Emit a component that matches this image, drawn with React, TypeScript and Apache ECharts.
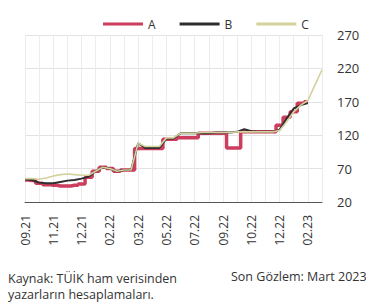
import React, { useEffect, useRef } from "react";
import * as echarts from "echarts";

const tickLabels = ["09.21", "11.21", "12.21", "02.22", "03.22", "05.22", "07.22", "09.22", "10.22", "12.22", "02.23"];
const pointsPerTick = 4;

const seriesA = [53, 52, 48, 46, 45, 44, 44, 45, 47, 57, 66, 72, 70, 66, 68, 68, 100, 100, 100, 100, 114, 114, 116, 116, 116, 123, 123, 123, 123, 101, 101, 125, 125, 125, 125, 125, 135, 147, 155, 168, 170];
const seriesB = [54, 53, 49, 48, 48, 50, 52, 53, 55, 58, 66, 72, 70, 66, 68, 68, 108, 101, 101, 101, 115, 115, 123, 123, 123, 123, 123, 124, 124, 124, 125, 129, 126, 125, 125, 125, 128, 145, 160, 165, 168];
const seriesC = [55, 55, 54, 56, 59, 61, 62, 61, 60, 60, 66, 72, 70, 66, 68, 68, 108, 103, 103, 103, 116, 116, 123, 123, 123, 124, 124, 124, 124, 124, 125, 125, 125, 125, 125, 125, 127, 140, 155, 165, 172, 195, 218];

const categories: string[] = seriesC.map((_, i) =>
  i % pointsPerTick === 0 && tickLabels[i / pointsPerTick] ? tickLabels[i / pointsPerTick] : ""
);

const FONT = "Open Sans";

export default function App() {
  const ref = useRef<HTMLDivElement>(null);
  useEffect(() => {
    if (!ref.current) return;
    const chart = echarts.init(ref.current, undefined, { renderer: "svg" });
    chart.setOption({
      animation: false,
      textStyle: { fontFamily: FONT },
      legend: {
        top: 13,
        left: 98,
        icon: "rect",
        itemWidth: 40,
        itemHeight: 3,
        itemGap: 24,
        textStyle: { fontSize: 12, color: "#333", fontFamily: FONT },
        data: ["A", "B", "C"],
      },
      grid: { left: 25, right: 44, top: 35, bottom: 106, containLabel: false },
      xAxis: {
        type: "category",
        boundaryGap: false,
        data: categories,
        axisLine: { lineStyle: { color: "#555", width: 1 } },
        axisTick: { show: false },
        axisLabel: {
          interval: 0,
          rotate: 90,
          fontSize: 12,
          color: "#333",
          margin: 13,
          fontFamily: FONT,
        },
        splitLine: { show: true, interval: 1, lineStyle: { color: "#ececec", width: 1 } },
      },
      yAxis: {
        type: "value",
        position: "right",
        min: 20,
        max: 270,
        interval: 50,
        axisLine: { show: false },
        axisTick: { show: false },
        axisLabel: { fontSize: 13, color: "#333", margin: 15, fontFamily: FONT },
        splitLine: { lineStyle: { color: "#e2e2e2", width: 1 } },
      },
      series: [
        {
          name: "A",
          type: "line",
          data: seriesA,
          step: "middle",
          showSymbol: false,
          symbol: "none",
          itemStyle: { color: "#cc3d5e" },
          lineStyle: { color: "#cc3d5e", width: 3.5 },
          z: 2,
        },
        {
          name: "B",
          type: "line",
          data: seriesB,
          showSymbol: false,
          symbol: "none",
          itemStyle: { color: "#2e2e2e" },
          lineStyle: { color: "#2e2e2e", width: 2 },
          z: 3,
        },
        {
          name: "C",
          type: "line",
          data: seriesC,
          showSymbol: false,
          symbol: "none",
          itemStyle: { color: "#d3d19c" },
          lineStyle: { color: "#d3d19c", width: 1.6 },
          z: 4,
        },
      ],
      graphic: [
        {
          type: "text",
          left: 8,
          top: 270,
          style: {
            text: "Kaynak: TÜİK ham verisinden\nyazarların hesaplamaları.",
            fontSize: 12.5,
            lineHeight: 16,
            fill: "#333",
            fontFamily: FONT,
          },
        },
        {
          type: "text",
          left: 231,
          top: 270,
          style: {
            text: "Son Gözlem: Mart 2023",
            fontSize: 12.5,
            fill: "#333",
            fontFamily: FONT,
          },
        },
      ],
    });
    return () => chart.dispose();
  }, []);
  return <div ref={ref} style={{ width: 366, height: 308, position: "absolute", left: 0, top: 0 }} />;
}
